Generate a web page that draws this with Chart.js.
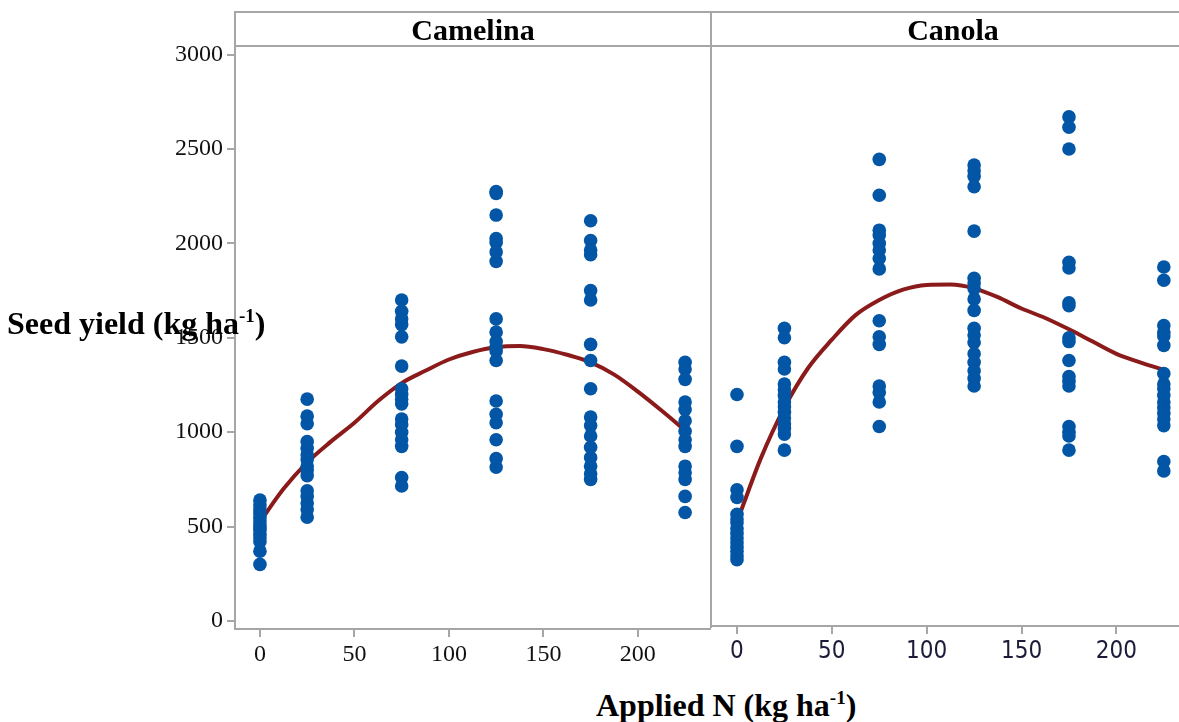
<!DOCTYPE html>
<html>
<head>
<meta charset="utf-8">
<script src="https://cdn.jsdelivr.net/npm/chart.js@4.4.0/dist/chart.umd.min.js"></script>
<style>
  html, body { margin: 0; padding: 0; background: #fff; }
  body { width: 1179px; height: 722px; position: relative; overflow: hidden; font-family: "Liberation Serif", "Times New Roman", serif; }
  .cv { position: absolute; }
  .ln { position: absolute; background: #a6a6a6; }
  .hdr { position: absolute; font-weight: bold; font-size: 30px; color: #000; text-align: center; line-height: 34px; top: 13px; height: 34px; }
  .ttl { position: absolute; font-weight: bold; font-size: 32px; line-height: 32px; color: #000; white-space: nowrap; z-index: 5; }
  .ttl sup { font-size: 19px; vertical-align: 12px; line-height: 0; }
</style>
</head>
<body>
<canvas id="left" class="cv"></canvas>
<canvas id="right" class="cv"></canvas>

<div class="ln" style="left:234px; top:11px; width:945px; height:2px;"></div>
<div class="ln" style="left:234px; top:45px; width:945px; height:2px;"></div>
<div class="ln" style="left:234px; top:11px; width:2px; height:35px;"></div>
<div class="ln" style="left:710px; top:11px; width:2px; height:617px;"></div>

<div class="hdr" style="left:236px; width:474px;">Camelina</div>
<div class="hdr" style="left:712px; width:482px;">Canola</div>

<div class="ttl" style="left:7px; top:307px;">Seed yield (kg ha<sup>-1</sup>)</div>
<div class="ttl" style="left:596px; top:689px;">Applied N (kg ha<sup>-1</sup>)</div>

<script>
// ---- data ----
const nLevels = [0, 25, 75, 125, 175, 225];

const camelina0   = [640, 615, 590, 570, 550, 530, 510, 495, 480, 460, 440, 420, 370, 300];
const camelina25  = [1175, 1085, 1045, 950, 915, 880, 855, 820, 800, 770, 690, 660, 625, 590, 550];
const camelina75  = [1700, 1640, 1600, 1570, 1505, 1350, 1230, 1200, 1175, 1150, 1070, 1040, 1000, 960, 925, 760, 715];
const camelina125 = [2275, 2265, 2150, 2025, 2005, 1955, 1905, 1600, 1530, 1480, 1450, 1430, 1380, 1165, 1095, 1050, 960, 860, 815];
const camelina175 = [2120, 2015, 1965, 1940, 1750, 1700, 1465, 1380, 1230, 1080, 1035, 980, 920, 865, 820, 780, 750];
const camelina225 = [1370, 1335, 1280, 1160, 1120, 1060, 1005, 960, 925, 820, 785, 750, 660, 575];

const canola0   = [1200, 925, 695, 655, 565, 540, 520, 490, 465, 440, 415, 390, 370, 345, 325];
const canola25  = [1550, 1500, 1370, 1335, 1255, 1225, 1195, 1160, 1135, 1105, 1075, 1045, 1020, 990, 905];
const canola75  = [2445, 2255, 2070, 2045, 2000, 1965, 1920, 1865, 1590, 1505, 1465, 1245, 1210, 1160, 1030];
const canola125 = [2415, 2385, 2355, 2300, 2065, 1815, 1790, 1760, 1705, 1645, 1550, 1515, 1475, 1415, 1370, 1325, 1285, 1245];
const canola175 = [2670, 2615, 2500, 1900, 1870, 1685, 1670, 1500, 1480, 1380, 1295, 1270, 1245, 1030, 1000, 980, 905];
const canola225 = [1875, 1805, 1565, 1530, 1510, 1460, 1310, 1255, 1230, 1195, 1160, 1130, 1100, 1070, 1035, 845, 795];

const camelinaFitN = [0, 12.5, 25, 37.5, 50, 62.5, 75, 87.5, 100, 112.5, 125, 137.5, 150, 162.5, 175, 187.5, 200, 212.5, 225];
const camelinaFit  = [525, 700, 840, 950, 1050, 1165, 1260, 1325, 1385, 1425, 1450, 1456, 1440, 1410, 1370, 1305, 1215, 1115, 1010];
const canolaFitN   = [2, 12.5, 25, 37.5, 50, 62.5, 75, 87.5, 100, 112.5, 125, 137.5, 150, 162.5, 175, 187.5, 200, 212.5, 225];
const canolaFit    = [580, 860, 1130, 1340, 1490, 1620, 1700, 1755, 1780, 1782, 1762, 1715, 1655, 1605, 1545, 1480, 1415, 1370, 1330];

const xTickValues = [0, 50, 100, 150, 200];
const yTickValues = [0, 500, 1000, 1500, 2000, 2500, 3000];

// ---- helpers ----
const BLUE = '#0256a5';
const RED = '#8b1a1a';
const GREY = '#a6a6a6';

function pointsFrom(groups) {
  const pts = [];
  groups.forEach((vals, i) => vals.forEach(v => pts.push({ x: nLevels[i], y: v })));
  return pts;
}
function curveFrom(ns, vals) { return ns.map((n, i) => ({ x: n, y: vals[i] })); }
function noPad(s) { s.paddingTop = 0; s.paddingBottom = 0; s.paddingLeft = 0; s.paddingRight = 0; }

function makeChart(id, pos, points, curve, opts) {
  const cv = document.getElementById(id);
  cv.style.left = pos.left + 'px';
  cv.style.top = pos.top + 'px';
  cv.width = pos.width; cv.height = pos.height;
  cv.style.width = pos.width + 'px'; cv.style.height = pos.height + 'px';
  return new Chart(cv, {
    type: 'scatter',
    data: {
      datasets: [
        { type: 'line', data: curve, borderColor: RED, borderWidth: 4, pointRadius: 0, tension: 0.4, cubicInterpolationMode: 'monotone', fill: false, order: 2 },
        { data: points, backgroundColor: BLUE, borderColor: BLUE, pointRadius: 6.8, pointBorderWidth: 0, order: 1 }
      ]
    },
    options: {
      responsive: false,
      animation: false,
      devicePixelRatio: 1,
      layout: { padding: 0, autoPadding: false },
      plugins: { legend: { display: false }, tooltip: { enabled: false } },
      scales: {
        x: {
          type: 'linear', min: opts.xmin, max: opts.xmax,
          afterBuildTicks: s => { s.ticks = xTickValues.map(v => ({ value: v })); },
          afterFit: s => { s.height = 50; noPad(s); },
          grid: { display: true, drawOnChartArea: false, drawTicks: true, tickLength: 8, color: GREY, lineWidth: 2 },
          border: { display: true, color: GREY, width: 2 },
          ticks: { color: opts.xcolor, padding: 3, maxRotation: 0, autoSkip: false, font: { family: opts.xfont, size: 24 }, callback: v => String(v) }
        },
        y: {
          type: 'linear', min: opts.ymin, max: opts.ymax,
          afterBuildTicks: s => { s.ticks = yTickValues.map(v => ({ value: v })); },
          afterFit: s => { s.width = opts.yw; noPad(s); },
          grid: { display: opts.yticks, drawOnChartArea: false, drawTicks: true, tickLength: 8, color: GREY, lineWidth: 2 },
          border: { display: opts.yticks, color: GREY, width: 2 },
          ticks: { display: opts.yticks, color: '#111', padding: 4, font: { family: 'Liberation Serif', size: 24 }, callback: v => String(v) }
        }
      }
    }
  });
}

const camelinaPts = pointsFrom([camelina0, camelina25, camelina75, camelina125, camelina175, camelina225]);
const canolaPts = pointsFrom([canola0, canola25, canola75, canola125, canola175, canola225]);

// left panel: chart area x 235..711, y 46..629
makeChart('left', { left: 165, top: 46, width: 546, height: 633 }, camelinaPts, curveFrom(camelinaFitN, camelinaFit),
  { xmin: -13.2, xmax: 238.7, ymin: -42.4, ymax: 3045.5, yw: 70, yticks: true, xfont: 'Liberation Serif', xcolor: '#111' });

// right panel: chart area x 711..1179, y 46..626
makeChart('right', { left: 711, top: 46, width: 468, height: 630 }, canolaPts, curveFrom(canolaFitN, canolaFit),
  { xmin: -13.7, xmax: 233.0, ymin: -26.5, ymax: 3045.5, yw: 0, yticks: false, xfont: "'Liberation Sans Narrow', 'Arial Narrow', 'DejaVu Sans Condensed', sans-serif", xcolor: '#1c1c3a' });
</script>
</body>
</html>
